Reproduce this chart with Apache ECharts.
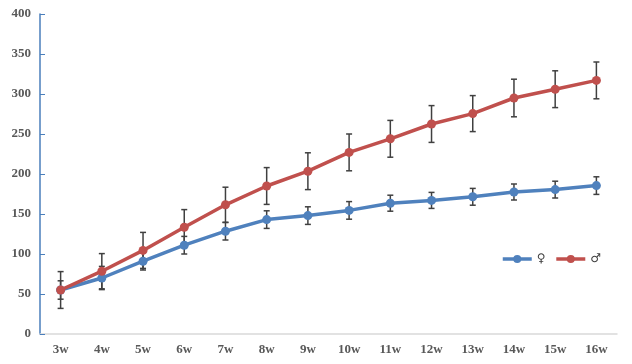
<!DOCTYPE html>
<html>
<head>
<meta charset="utf-8">
<script src="https://cdn.jsdelivr.net/npm/echarts@6/dist/echarts.min.js"></script>
<style>html,body{margin:0;padding:0;background:#fff}#c{width:632px;height:364px}</style>
</head>
<body>
<div id="c"></div>
<script>
var categories = ['3w','4w','5w','6w','7w','8w','9w','10w','11w','12w','13w','14w','15w','16w'];
var femaleName = '♀';
var maleName = '♂';
var female = [55, 70, 91, 111, 128.5, 143, 148, 154.5, 163.5, 167, 171.5, 177.5, 180.5, 185.5];
var femaleErr = [11.5, 14.5, 11, 11, 11, 11, 11, 11, 10, 10, 10.5, 10, 10.5, 11];
var male = [55, 78.5, 104.5, 133.5, 161.5, 185, 203.5, 227, 244, 262.5, 275.5, 295, 306, 317];
var maleErr = [23, 22, 22.5, 22, 22, 23, 23, 23, 23, 23, 22.5, 23.5, 23, 23];
var yTicks = [0, 50, 100, 150, 200, 250, 300, 350, 400];

function errRows(vals, errs) {
  return vals.map(function (v, i) { return [i, v, errs[i]]; });
}
function renderErr(params, api) {
  var x = api.value(0), v = api.value(1), e = api.value(2);
  var top = api.coord([x, v + e]);
  var bot = api.coord([x, v - e]);
  var hw = 3;
  var st = { stroke: '#404040', lineWidth: 1.5 };
  return {
    type: 'group',
    children: [
      { type: 'line', shape: { x1: top[0], y1: top[1], x2: bot[0], y2: bot[1] }, style: st },
      { type: 'line', shape: { x1: top[0] - hw, y1: top[1], x2: top[0] + hw, y2: top[1] }, style: st },
      { type: 'line', shape: { x1: bot[0] - hw, y1: bot[1], x2: bot[0] + hw, y2: bot[1] }, style: st }
    ]
  };
}

var labelStyle = { color: '#595959', fontFamily: 'Liberation Serif', fontWeight: 'bold', fontSize: 13 };
var chart = echarts.init(document.getElementById('c'));
chart.setOption({
  animation: false,
  backgroundColor: '#fff',
  grid: { left: 40, right: 15, top: 14, bottom: 30, containLabel: false },
  legend: {
    data: [femaleName, maleName],
    left: 496, top: 248,
    itemWidth: 29, itemHeight: 10, itemGap: 9,
    lineStyle: { width: 3.5 },
    textStyle: { color: '#404040', fontSize: 12, fontFamily: 'DejaVu Sans' }
  },
  xAxis: {
    type: 'category',
    data: categories,
    boundaryGap: true,
    axisLine: { lineStyle: { color: '#d9d9d9', width: 1.5 } },
    axisTick: { inside: true, length: 5, lineStyle: { color: '#d9d9d9' } },
    axisLabel: Object.assign({ margin: 9 }, labelStyle),
    splitLine: { show: false }
  },
  yAxis: {
    type: 'value',
    min: yTicks[0], max: yTicks[yTicks.length - 1], interval: yTicks[1] - yTicks[0],
    axisLine: { show: true, lineStyle: { color: '#4a7ebb', width: 1.5 } },
    axisTick: { show: true, inside: true, length: 5, lineStyle: { color: '#4a7ebb' } },
    axisLabel: Object.assign({ margin: 9 }, labelStyle),
    splitLine: { show: false }
  },
  series: [
    { type: 'custom', name: 'errF', renderItem: renderErr, data: errRows(female, femaleErr), encode: { x: 0, y: 1 }, z: 1, silent: true },
    { type: 'custom', name: 'errM', renderItem: renderErr, data: errRows(male, maleErr), encode: { x: 0, y: 1 }, z: 1, silent: true },
    {
      type: 'line', name: femaleName, data: female, z: 3,
      symbol: 'circle', symbolSize: 9,
      itemStyle: { color: '#4f81bd' },
      lineStyle: { color: '#4f81bd', width: 3.5 }
    },
    {
      type: 'line', name: maleName, data: male, z: 4,
      symbol: 'circle', symbolSize: 9,
      itemStyle: { color: '#c0504d' },
      lineStyle: { color: '#c0504d', width: 3.5 }
    }
  ]
});
</script>
</body>
</html>
